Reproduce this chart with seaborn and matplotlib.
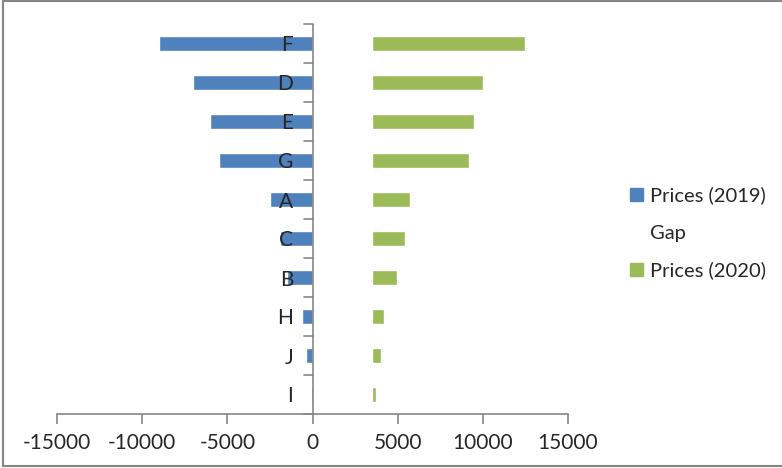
import numpy as np
import pandas as pd
import seaborn as sns
from matplotlib import pyplot as plt
from matplotlib.patches import Patch
from matplotlib.lines import Line2D

# data
products = ['F', 'D', 'E', 'G', 'A', 'C', 'B', 'H', 'J', 'I']
prices_2019 = [9000, 7000, 6000, 5500, 2500, 1900, 1500, 600, 400, 60]
prices_2020 = [9000, 6500, 6000, 5700, 2250, 1950, 1480, 700, 530, 200]
gap = 3500

blue = '#4F81BD'
green = '#9BBB59'
grey = '#868686'

sns.set_style('white')
plt.rcParams['font.family'] = ['Lato', 'DejaVu Sans']
plt.rcParams['axes.unicode_minus'] = False

df = pd.DataFrame({'product': products,
                   'p2019': [-v for v in prices_2019],
                   'p2020_end': [gap + v for v in prices_2020],
                   'gap': [gap] * len(products)})

fig = plt.figure(figsize=(7.82, 4.68), dpi=100)
ax = fig.add_axes([57 / 782, 1 - 414 / 468, 511 / 782, 390 / 468])

# 2019 to the left, 2020 stacked after an invisible gap to the right
sns.barplot(data=df, y='product', x='p2019', color=blue, saturation=1,
            width=0.4, orient='h', ax=ax, zorder=2)
sns.barplot(data=df, y='product', x='p2020_end', color=green, saturation=1,
            width=0.4, orient='h', ax=ax, zorder=2)
sns.barplot(data=df, y='product', x='gap', color='white', saturation=1,
            width=0.44, orient='h', ax=ax, zorder=2.2)

ax.set_axisbelow(False)
ax.set_xlim(-15000, 15000)
ax.set_ylim(len(products) - 0.5, -0.5)
ax.set_xticks([-15000, -10000, -5000, 0, 5000, 10000, 15000])
ax.set_xlabel('')
ax.set_ylabel('')

for s in ['top', 'right', 'left']:
    ax.spines[s].set_visible(False)
ax.spines['bottom'].set_color(grey)
ax.spines['bottom'].set_linewidth(1.2)

# vertical axis sits at zero, labels next to it
ax.axvline(0, color=grey, lw=1.2, zorder=4)
ax.set_yticks(np.arange(len(products)))
ax.set_yticklabels(products)
ax.tick_params(axis='y', length=0, pad=-170, labelsize=15)
for yb in np.arange(-0.5, len(products) + 0.5, 1):
    ax.plot([-500, 0], [yb, yb], color=grey, lw=1.2, zorder=4, clip_on=False)

ax.tick_params(axis='x', direction='out', length=7, width=1.2, color=grey,
               labelsize=15, pad=7, bottom=True)

handles = [Patch(facecolor=blue, edgecolor=blue),
           Patch(facecolor='none', edgecolor='none'),
           Patch(facecolor=green, edgecolor=green)]
fig.legend(handles, ['Prices (2019)', 'Gap', 'Prices (2020)'],
           loc='center left', bbox_to_anchor=(612 / 782, 1 - 233 / 468),
           frameon=False, fontsize=14.5, handlelength=0.65, handleheight=0.65,
           handletextpad=0.35, labelspacing=1.0)

# chart border
for xs, ys in [([3, 782], [1, 1]), ([3, 3], [1, 466]), ([3, 782], [466, 466])]:
    fig.add_artist(Line2D([x / 782 for x in xs], [1 - y / 468 for y in ys],
                          color=grey, lw=1.5))

fig.savefig('out.png', dpi=100)
